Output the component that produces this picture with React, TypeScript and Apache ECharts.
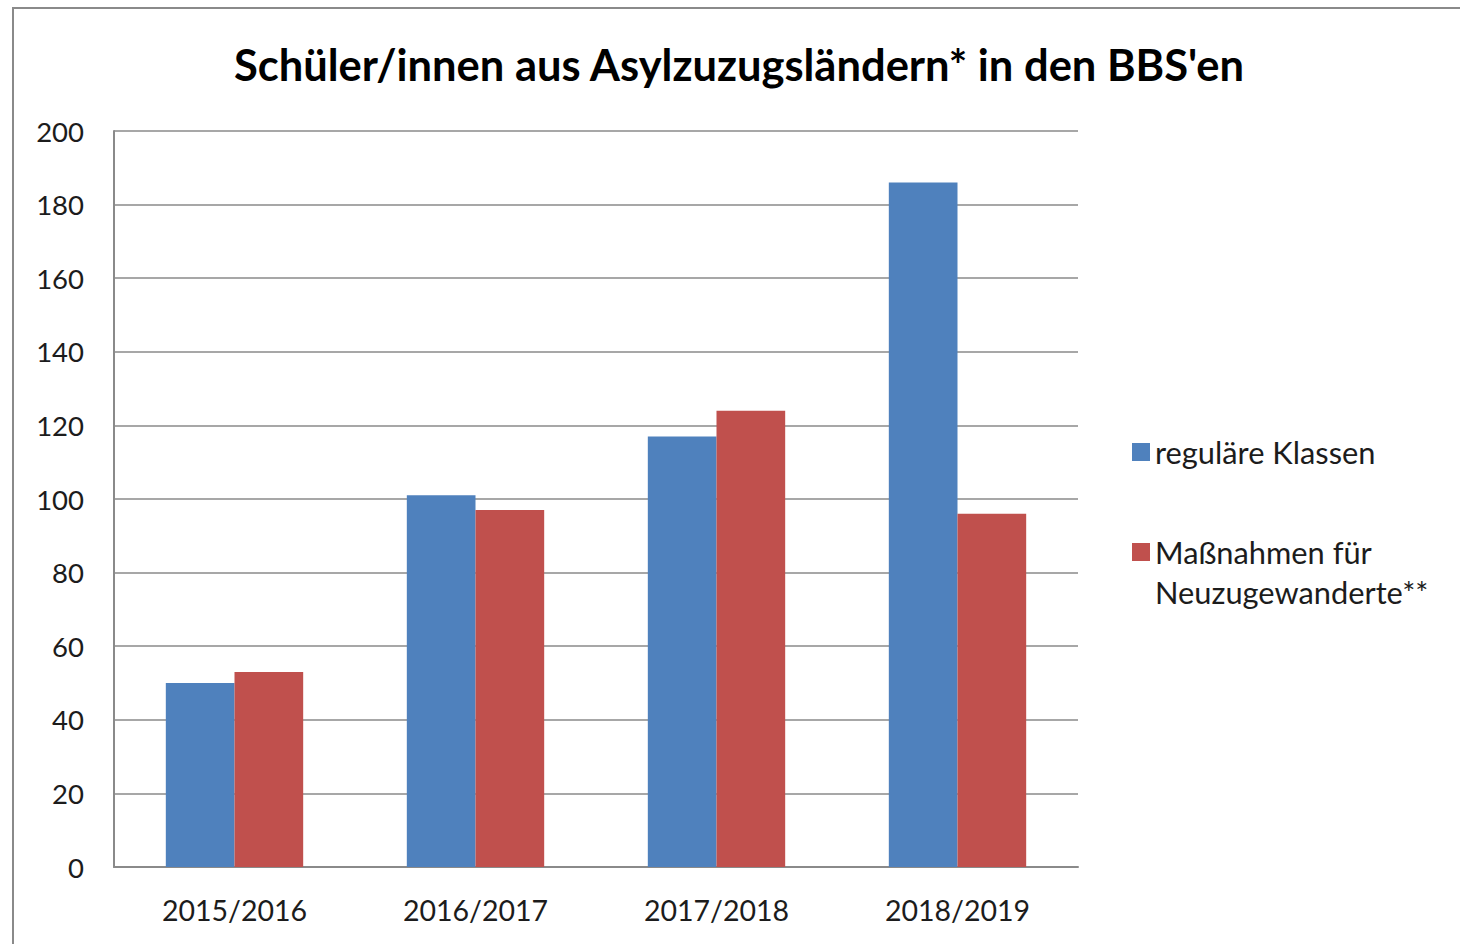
import React, { useEffect, useRef } from "react";
import * as echarts from "echarts";

const categories = ["2015/2016", "2016/2017", "2017/2018", "2018/2019"];
const seriesNames = ["reguläre Klassen", "Maßnahmen für Neuzugewanderte**"];
const regulaere = [50, 101, 117, 186];
const massnahmen = [53, 97, 124, 96];
const yTicks = { min: 0, max: 200, interval: 20 };
const title = "Schüler/innen aus Asylzuzugsländern* in den BBS'en";

const FONT = "Lato, 'Open Sans', sans-serif";
const TEXT = "#1c1c1c";

export default function App() {
  const ref = useRef<HTMLDivElement>(null);
  useEffect(() => {
    if (!ref.current) return;
    const chart = echarts.init(ref.current, null, { renderer: "svg" });
    chart.setOption({
      animation: false,
      backgroundColor: "#ffffff",
      title: {
        text: title,
        left: 734,
        textAlign: "center",
        top: 37,
        textStyle: { fontFamily: FONT, fontWeight: "bold", fontSize: 43.5, color: "#000" },
      },
      graphic: [
        {
          type: "rect",
          shape: { x: 13, y: 8, width: 1460, height: 960 },
          style: { fill: "none", stroke: "#8a8a8a", lineWidth: 2 },
          silent: true,
        },
      ],
      legend: [
        {
          data: [seriesNames[0]],
          orient: "vertical",
          left: 1132,
          top: 432,
          padding: 0,
          itemWidth: 18,
          itemHeight: 18,
          itemGap: 0,
          icon: "rect",
          textStyle: { fontFamily: FONT, fontSize: 30.8, color: TEXT, lineHeight: 40 },
        },
        {
          data: [seriesNames[1]],
          orient: "vertical",
          left: 1132,
          top: 492,
          padding: 0,
          itemWidth: 18,
          itemHeight: 18,
          itemGap: 0,
          icon: "rect",
          formatter: (n: string) => "\n" + n.replace(" Neuzu", "\nNeuzu"),
          textStyle: {
            fontFamily: FONT,
            fontSize: 30.8,
            color: TEXT,
            lineHeight: 40,
          },
        },
      ],
      grid: { left: 114, right: 382, top: 131, bottom: 77, containLabel: false },
      xAxis: {
        type: "category",
        data: categories,
        axisLine: { show: true, lineStyle: { color: "#8a8a8a", width: 2 } },
        axisTick: { show: false },
        axisLabel: { fontFamily: FONT, fontSize: 28.5, color: TEXT, margin: 28 },
      },
      yAxis: {
        type: "value",
        min: yTicks.min,
        max: yTicks.max,
        interval: yTicks.interval,
        axisLine: { show: true, lineStyle: { color: "#8a8a8a", width: 2 } },
        axisTick: { show: false },
        splitLine: { show: true, lineStyle: { color: "#8a8a8a", width: 1.5 } },
        axisLabel: { fontFamily: FONT, fontSize: 27.5, color: TEXT, margin: 30 },
      },
      series: [
        {
          name: seriesNames[0],
          type: "bar",
          data: regulaere,
          barGap: "0%",
          barCategoryGap: "43%",
          itemStyle: { color: "#4F81BD" },
        },
        {
          name: seriesNames[1],
          type: "bar",
          data: massnahmen,
          itemStyle: { color: "#C0504D" },
        },
      ],
    });
    return () => chart.dispose();
  }, []);
  return (
    <div
      ref={ref}
      style={{ position: "absolute", left: 0, top: 0, width: 1460, height: 944, background: "#fff" }}
    />
  );
}
